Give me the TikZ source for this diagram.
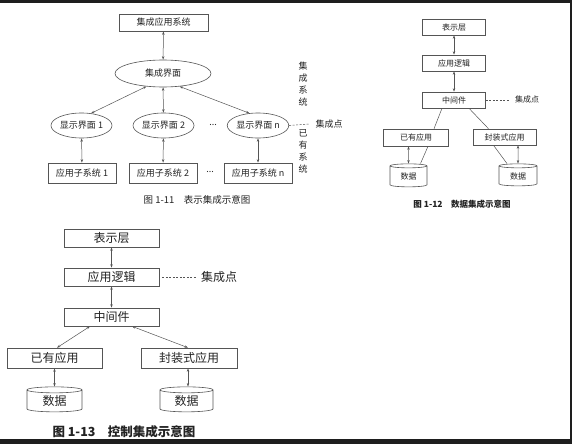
\documentclass[tikz,border=0pt]{standalone}
\usepackage{fontspec}
\setmainfont{Noto Sans CJK SC}
\usetikzlibrary{shapes.geometric, arrows.meta}

\begin{document}
\begin{tikzpicture}[x=1pt, y=-1pt,
  every node/.style={inner sep=0pt, text=textGray},
  box/.style={draw=lineGray, fill=white, line width=0.6pt},
  oval/.style={ellipse, draw=lineGray, fill=white, line width=0.6pt},
  db/.style={cylinder, shape border rotate=90, aspect=0.25, draw=lineGray, fill=white, line width=0.6pt},
  link/.style={draw=lineGray, line width=0.5pt, {Stealth[length=3.5pt,width=2.4pt]}-{Stealth[length=3.5pt,width=2.4pt]}},
  wire/.style={draw=lineGray, line width=0.5pt},
  dashline/.style={draw=lineGray, line width=0.5pt, dash pattern=on 2pt off 1.5pt},
  figA/.style={font=\fontsize{9}{12}\selectfont},
  figB/.style={font=\fontsize{8}{10}\selectfont},
  figC/.style={font=\fontsize{12}{14}\selectfont}]

% Colores de lineas y texto
\definecolor{lineGray}{RGB}{85,85,85}
\definecolor{textGray}{RGB}{35,35,35}
\definecolor{frameDark}{RGB}{30,30,30}

\useasboundingbox (0,0) rectangle (572,444);
\fill[white] (0,0) rectangle (572,444);

% Bordes oscuros de la captura
\fill[frameDark] (0,0) rectangle (572,3);
\fill[frameDark] (570,0) rectangle (572,444);
\fill[frameDark] (0,439) rectangle (572,444);

% Figura 1-11: integracion de presentacion
\node[box, figA, minimum width=89, minimum height=17] (app) at (163.5,22.5) {集成应用系统};
\node[oval, figA, minimum width=96, minimum height=27] (ui) at (163,73.5) {集成界面};
\node[oval, figA, minimum width=61, minimum height=25] (d1) at (81.5,125.5) {显示界面 1};
\node[oval, figA, minimum width=61, minimum height=25] (d2) at (163.5,125.5) {显示界面 2};
\node[oval, figA, minimum width=61, minimum height=25] (dn) at (258,125.5) {显示界面 n};
\node[figA] (dotsA) at (213,125) {...};
\node[box, figA, minimum width=68, minimum height=20] (s1) at (82,173) {应用子系统 1};
\node[box, figA, minimum width=68, minimum height=20] (s2) at (163,173) {应用子系统 2};
\node[box, figA, minimum width=68, minimum height=20] (sn) at (258,173) {应用子系统 n};
\node[figA] (dotsB) at (210,172) {...};
\coordinate (ptA) at (310,124);
\node[figA] (intA) at (329,124) {集成点};
\node[figA, align=center] (vtA) at (303,84) {集\\成\\系\\统};
\node[figA, align=center] (vtB) at (303,151) {已\\有\\系\\统};
\node[font=\fontsize{9.5}{11}\selectfont] (capA) at (197,200) {图 1-11\quad 表示集成示意图};

\draw[link] (app) -- (ui);
\draw[link] (ui.218) -- (d1.52);
\draw[link] (ui) -- (d2);
\draw[link] (ui.322) -- (dn.125);
\draw[link] (d1) -- (s1);
\draw[link] (d2) -- (s2);
\draw[link] (dn) -- (sn);
\draw[dashline] (dn.east) -- (ptA);

% Figura 1-12: integracion de datos
\node[box, figB, minimum width=63, minimum height=16] (presB) at (454,27) {表示层};
\node[box, figB, minimum width=63, minimum height=16] (logicB) at (454,63) {应用逻辑};
\node[box, figB, minimum width=63, minimum height=16] (midB) at (454,100) {中间件};
\coordinate (ptB) at (510,100);
\node[figB] (intB) at (527,99) {集成点};
\node[box, figB, minimum width=65, minimum height=17] (oldB) at (416,137.5) {已有应用};
\node[box, figB, minimum width=63, minimum height=16] (wrapB) at (504.5,137) {封装式应用};
\node[db, figB, minimum width=37, minimum height=23] (dbB1) at (408.5,176.5) {数据};
\node[db, figB, minimum width=38, minimum height=22] (dbB2) at (518,176) {数据};
\node[font=\bfseries\fontsize{8.5}{10}\selectfont] (capB) at (462,204) {图 1-12\quad 数据集成示意图};

\draw[link] (presB) -- (logicB);
\draw[link] (logicB) -- (midB);
\draw[dashline] (midB.east) -- (ptB);
\draw[wire] ([xshift=-12pt]midB.south) -- ([xshift=18pt]oldB.north);
\draw[wire] ([xshift=15pt]midB.south) -- ([xshift=-16pt]wrapB.north);
\draw[link] (oldB.south -| dbB1.center) -- (dbB1.north);
\draw[wire] ([xshift=12pt]oldB.south) -- ([xshift=12pt]dbB1.north);
\draw[link] (wrapB.south -| dbB2.center) -- (dbB2.north);
\draw[wire] ([xshift=-11pt]wrapB.south) -- ([xshift=-11pt]dbB2.north);

% Figura 1-13: integracion de control
\node[box, figC, minimum width=95, minimum height=18] (presC) at (111.5,238) {表示层};
\node[box, figC, minimum width=95, minimum height=18] (logicC) at (111.5,277) {应用逻辑};
\node[box, figC, minimum width=95, minimum height=18] (midC) at (111.5,317) {中间件};
\coordinate (ptC) at (197,277);
\node[figC] (intC) at (219,277) {集成点};
\node[box, figC, minimum width=95, minimum height=20] (oldC) at (54.5,358) {已有应用};
\node[box, figC, minimum width=96, minimum height=20] (wrapC) at (189,358) {封装式应用};
\node[db, figC, minimum width=55, minimum height=25] (dbC1) at (54.5,401) {数据};
\node[db, figC, minimum width=53, minimum height=25] (dbC2) at (186.5,401) {数据};
\node[font=\bfseries\fontsize{12.5}{14}\selectfont] (capC) at (124,432) {图 1-13\quad 控制集成示意图};

\draw[link] (presC) -- (logicC);
\draw[link] (logicC) -- (midC);
\draw[dashline] ([xshift=3pt]logicC.east) -- (ptC);
\draw[link] ([xshift=-21.5pt]midC.south) -- ([xshift=2.5pt]oldC.north);
\draw[link] ([xshift=20.5pt]midC.south) -- ([xshift=-1pt]wrapC.north);
\draw[link] (oldC.south) -- (oldC.south |- dbC1.north);
\draw[link] ([xshift=-1pt]wrapC.south) -- ([xshift=-1pt]wrapC.south |- dbC2.north);

\end{tikzpicture}
\end{document}
